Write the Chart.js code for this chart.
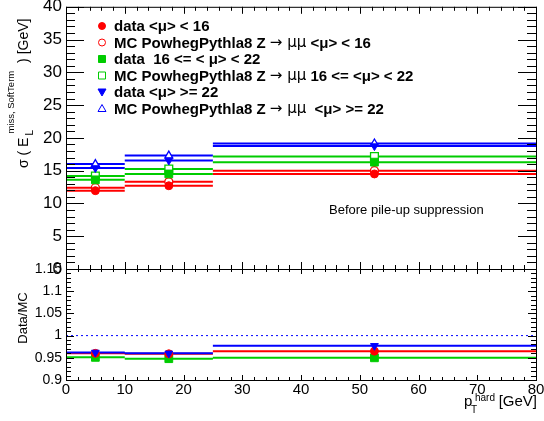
<!DOCTYPE html>
<html>
<head>
<meta charset="utf-8">
<script src="https://cdn.jsdelivr.net/npm/chart.js@4.4.1/dist/chart.umd.min.js"></script>
<style>
    html, body { margin: 0; padding: 0; background: #fff; }
    #wrap { position: relative; width: 544px; height: 421px; }
    #wrap canvas { position: absolute; left: 0; top: 0; }
</style>
</head>
<body>
<div id="wrap">
    <canvas id="topChart" width="544" height="421"></canvas>
    <canvas id="ratioChart" width="544" height="421"></canvas>
</div>
<script>
// pT hard bins [GeV]
const binEdges = [0, 10, 25, 80];
const binCenters = [5, 17.5, 52.5];

// sigma(E_L miss, SoftTerm) [GeV]
const dataLow = [11.95, 12.7, 14.5];
const mcLow = [12.4, 13.3, 15.0];
const dataMid = [13.6, 14.5, 16.3];
const mcMid = [14.2, 15.25, 17.15];
const dataHigh = [15.4, 16.55, 18.75];
const mcHigh = [16.0, 17.3, 19.15];
const dataErr = [0.25, 0.2, 0.2];
const mcErr = [0.2, 0.15, 0.15];

// Data/MC
const ratioLow = [0.960, 0.959, 0.965];
const ratioMid = [0.951, 0.948, 0.950];
const ratioHigh = [0.962, 0.960, 0.977];
const ratioErr = [0.003, 0.003, 0.003];

const RED = '#ff0000';
const GREEN = '#00cc00';
const BLUE = '#0000ff';
const FONT = '"Liberation Sans", Arial, Helvetica, sans-serif';
const SYMBOL_FONT = '"DejaVu Sans", sans-serif';

Chart.defaults.color = '#000';
Chart.defaults.font.family = FONT;

// horizontal segment across each bin, broken between bins
function binLine(values) {
    const pts = [];
    values.forEach((v, i) => {
        pts.push({ x: binEdges[i], y: v });
        pts.push({ x: binEdges[i + 1], y: v });
        pts.push({ x: binEdges[i + 1], y: null });
    });
    return pts;
}

function markers(values, errs) {
    return values.map((v, i) => ({ x: binCenters[i], y: v, err: errs[i] }));
}

function lineSet(values, color) {
    return {
        type: 'line', data: binLine(values), borderColor: color, borderWidth: 2,
        pointRadius: 0, spanGaps: false, order: 2
    };
}

function markerSet(values, errs, color, style, open, radius, rotation) {
    return {
        type: 'scatter', data: markers(values, errs), borderColor: color,
        backgroundColor: open ? '#ffffff' : color, borderWidth: open ? 1.3 : 1,
        pointStyle: style, pointRadius: radius, pointRotation: rotation || 0,
        order: open ? 1 : 0, errColor: color
    };
}

// error bars, frame and inward ticks (ROOT style)
const rootStyle = {
    id: 'rootStyle',
    beforeDatasetsDraw(chart) {
        const ctx = chart.ctx;
        ctx.save();
        ctx.lineWidth = 1;
        chart.data.datasets.forEach((ds, i) => {
            if (!ds.errColor) return;
            const meta = chart.getDatasetMeta(i);
            ctx.strokeStyle = ds.errColor;
            ds.data.forEach((p, j) => {
                const el = meta.data[j];
                const ys = chart.scales.y;
                const x = Math.round(el.x) + 0.5;
                ctx.beginPath();
                ctx.moveTo(x, ys.getPixelForValue(p.y + p.err));
                ctx.lineTo(x, ys.getPixelForValue(p.y - p.err));
                ctx.stroke();
            });
        });
        ctx.restore();
    },
    afterDraw(chart, args, opts) {
        const ctx = chart.ctx, a = chart.chartArea;
        const xs = chart.scales.x, ys = chart.scales.y;
        ctx.save();
        ctx.strokeStyle = '#000';
        ctx.lineWidth = 1;
        ctx.strokeRect(a.left + 0.5, a.top + 0.5, a.right - a.left, a.bottom - a.top);
        ctx.beginPath();
        const ny = Math.round((ys.max - ys.min) / opts.yMinor);
        for (let k = 0; k <= ny; k++) {
            const v = ys.min + k * opts.yMinor;
            const r = v / opts.yMajor;
            const len = Math.abs(r - Math.round(r)) < 1e-6 ? opts.yMajLen : opts.yMinLen;
            const py = Math.round(ys.getPixelForValue(v)) + 0.5;
            ctx.moveTo(a.left, py); ctx.lineTo(a.left + len, py);
            ctx.moveTo(a.right, py); ctx.lineTo(a.right - len, py);
        }
        const nx = Math.round((xs.max - xs.min) / 2);
        for (let k = 0; k <= nx; k++) {
            const v = xs.min + k * 2;
            const len = v % 10 === 0 ? opts.xMajLen : opts.xMinLen;
            const px = Math.round(xs.getPixelForValue(v)) + 0.5;
            ctx.moveTo(px, a.top); ctx.lineTo(px, a.top + len);
            ctx.moveTo(px, a.bottom); ctx.lineTo(px, a.bottom - len);
        }
        ctx.stroke();
        if (opts.draw) opts.draw(ctx, chart);
        ctx.restore();
    }
};

function fixY(width) {
    return s => { s.width = width; s.paddingTop = 0; s.paddingBottom = 0; };
}

// ---------- upper panel ----------
function drawLegend(ctx) {
    const rows = [
        { color: RED, shape: 'circle', open: false, parts: [['b', 'data <μ> < 16']] },
        { color: RED, shape: 'circle', open: true, parts: [['b', 'MC PowhegPythla8 Z '], ['n', '→ μμ'], ['b', ' <μ> < 16']] },
        { color: GREEN, shape: 'square', open: false, parts: [['b', 'data  16 <= < μ> < 22']] },
        { color: GREEN, shape: 'square', open: true, parts: [['b', 'MC PowhegPythla8 Z '], ['n', '→ μμ'], ['b', ' 16 <= <μ> < 22']] },
        { color: BLUE, shape: 'down', open: false, parts: [['b', 'data <μ> >= 22']] },
        { color: BLUE, shape: 'up', open: true, parts: [['b', 'MC PowhegPythla8 Z '], ['n', '→ μμ'], ['b', '  <μ> >= 22']] }
    ];
    ctx.textBaseline = 'middle';
    rows.forEach((row, i) => {
        const y = 26 + i * 16.5;
        const mx = 102;
        ctx.beginPath();
        if (row.shape === 'circle') ctx.arc(mx, y, 3.5, 0, Math.PI * 2);
        else if (row.shape === 'square') ctx.rect(mx - 3.5, y - 3.5, 7, 7);
        else if (row.shape === 'down') { ctx.moveTo(mx - 4, y - 3); ctx.lineTo(mx + 4, y - 3); ctx.lineTo(mx, y + 4); ctx.closePath(); }
        else { ctx.moveTo(mx - 4, y + 3); ctx.lineTo(mx + 4, y + 3); ctx.lineTo(mx, y - 4); ctx.closePath(); }
        ctx.fillStyle = row.open ? '#fff' : row.color;
        ctx.strokeStyle = row.color;
        ctx.lineWidth = 1;
        ctx.fill();
        ctx.stroke();
        let x = 114;
        ctx.fillStyle = '#000';
        row.parts.forEach(([w, t]) => {
            ctx.font = w === 'b' ? 'bold 15px ' + FONT : '15px ' + SYMBOL_FONT;
            ctx.fillText(t, x, y + 1);
            x += ctx.measureText(t).width;
        });
    });

    ctx.font = '13px ' + FONT;
    ctx.fillText('Before pile-up suppression', 329, 210);

    // y title: sigma ( E_L^{miss, SoftTerm} ) [GeV]
    ctx.save();
    ctx.translate(28, 168);
    ctx.rotate(-Math.PI / 2);
    ctx.textBaseline = 'alphabetic';
    ctx.font = '14px ' + FONT;
    let x = 0;
    ctx.fillText('σ ( E', x, 0);
    x += ctx.measureText('σ ( E').width;
    ctx.font = '10px ' + FONT;
    ctx.fillText('L', x + 2, 5);
    ctx.font = '9.5px ' + FONT;
    ctx.fillText('miss, SoftTerm', x + 4, -14);
    x += 4 + ctx.measureText('miss, SoftTerm').width;
    ctx.font = '14px ' + FONT;
    ctx.fillText(' ) [GeV]', x + 4, 0);
    ctx.restore();
}

new Chart(document.getElementById('topChart'), {
    data: {
        datasets: [
            markerSet(dataLow, dataErr, RED, 'circle', false, 4),
            markerSet(mcLow, mcErr, RED, 'circle', true, 4),
            markerSet(dataMid, dataErr, GREEN, 'rect', false, 5.5),
            markerSet(mcMid, mcErr, GREEN, 'rect', true, 5.5),
            markerSet(dataHigh, dataErr, BLUE, 'triangle', false, 4.5, 180),
            markerSet(mcHigh, mcErr, BLUE, 'triangle', true, 4.5),
            lineSet(dataLow, RED), lineSet(mcLow, RED),
            lineSet(dataMid, GREEN), lineSet(mcMid, GREEN),
            lineSet(dataHigh, BLUE), lineSet(mcHigh, BLUE)
        ]
    },
    options: {
        responsive: false,
        animation: false,
        layout: { padding: { left: 0, right: 8, top: 5, bottom: 152 } },
        plugins: {
            legend: { display: false },
            tooltip: { enabled: false },
            rootStyle: {
                yMinor: 1, yMajor: 5, yMajLen: 18, yMinLen: 9,
                xMajLen: 7, xMinLen: 4, draw: drawLegend
            }
        },
        scales: {
            x: { type: 'linear', min: 0, max: 80, display: false },
            y: {
                type: 'linear', min: 0, max: 40,
                grid: { display: false, drawTicks: false },
                border: { display: false },
                ticks: { stepSize: 5, padding: 4, font: { size: 17 } },
                afterFit: fixY(66)
            }
        }
    },
    plugins: [rootStyle]
});

// ---------- ratio panel ----------
function drawRatioTitles(ctx) {
    ctx.save();
    ctx.translate(27, 318);
    ctx.rotate(-Math.PI / 2);
    ctx.font = '13px ' + FONT;
    ctx.textAlign = 'center';
    ctx.textBaseline = 'alphabetic';
    ctx.fillText('Data/MC', 0, 0);
    ctx.restore();

    // x title: p_T^{hard} [GeV]
    ctx.textBaseline = 'alphabetic';
    ctx.font = '15px ' + FONT;
    ctx.textAlign = 'right';
    ctx.fillText('[GeV]', 537, 406);
    ctx.textAlign = 'left';
    ctx.fillText('p', 464, 406);
    ctx.font = '10px ' + FONT;
    ctx.fillText('hard', 475, 401);
    ctx.fillText('T', 471, 413);
}

new Chart(document.getElementById('ratioChart'), {
    data: {
        datasets: [
            markerSet(ratioHigh, ratioErr, BLUE, 'triangle', false, 4.5, 180),
            markerSet(ratioLow, ratioErr, RED, 'circle', false, 4),
            markerSet(ratioMid, ratioErr, GREEN, 'rect', false, 5.5),
            lineSet(ratioHigh, BLUE), lineSet(ratioLow, RED), lineSet(ratioMid, GREEN),
            {
                type: 'line', data: [{ x: 0, y: 1 }, { x: 80, y: 1 }],
                borderColor: BLUE, borderWidth: 1, borderDash: [2, 3], pointRadius: 0, order: 3
            }
        ]
    },
    options: {
        responsive: false,
        animation: false,
        layout: { padding: { left: 0, right: 8, top: 269, bottom: 0 } },
        plugins: {
            legend: { display: false },
            tooltip: { enabled: false },
            rootStyle: {
                yMinor: 0.01, yMajor: 0.05, yMajLen: 8, yMinLen: 5,
                xMajLen: 5, xMinLen: 3, draw: drawRatioTitles
            }
        },
        scales: {
            x: {
                type: 'linear', min: 0, max: 80,
                grid: { display: false, drawTicks: false },
                border: { display: false },
                ticks: { stepSize: 10, padding: 1, font: { size: 15 }, maxRotation: 0 },
                afterFit: s => { s.height = 41; s.paddingLeft = 0; s.paddingRight = 0; }
            },
            y: {
                type: 'linear', min: 0.9, max: 1.15,
                grid: { display: false, drawTicks: false },
                border: { display: false },
                ticks: {
                    stepSize: 0.05, padding: 4, font: { size: 14 },
                    callback: v => String(Number(v.toFixed(2)))
                },
                afterFit: fixY(66)
            }
        }
    },
    plugins: [rootStyle]
});
</script>
</body>
</html>
